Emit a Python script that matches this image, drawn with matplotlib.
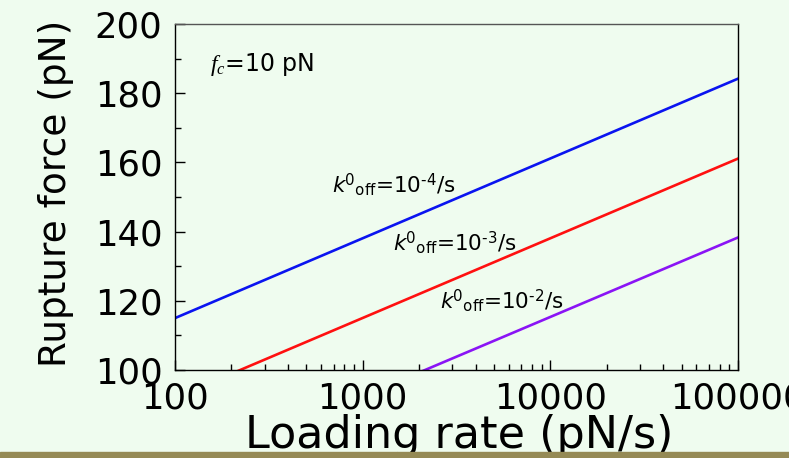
import matplotlib
matplotlib.use("Agg")
import matplotlib.pyplot as plt
from matplotlib.patches import Rectangle
from matplotlib.ticker import FixedLocator, FixedFormatter, NullFormatter, LogLocator

plt.rcParams['font.family'] = ['DejaVu Sans']
plt.rcParams['mathtext.fontset'] = 'custom'
plt.rcParams['mathtext.rm'] = 'DejaVu Sans'
plt.rcParams['mathtext.it'] = 'Liberation Serif:italic'
plt.rcParams['mathtext.sf'] = 'DejaVu Sans:italic'
plt.rcParams['mathtext.bf'] = 'DejaVu Sans:bold'

# Data
loading_rate = [100, 100000]
force_k1e4 = [115.0, 184.2]
force_k1e3 = [92.0, 161.1]
force_k1e2 = [69.4, 138.3]
x_ticks = [100, 1000, 10000, 100000]
x_tick_labels = ["100", "1000", "10000", "100000"]
y_ticks = [100, 120, 140, 160, 180, 200]
y_tick_labels = ["100", "120", "140", "160", "180", "200"]
y_minor = [110, 130, 150, 170, 190]

bg = "#effcef"
W, H = 789, 458
fig = plt.figure(figsize=(W / 100, H / 100), dpi=100, facecolor=bg)
ax = fig.add_axes([175 / W, 1 - 370 / H, (738 - 175) / W, (370 - 24) / H], facecolor=bg)

ax.plot(loading_rate, force_k1e4, color="#0a14f0", lw=1.9)
ax.plot(loading_rate, force_k1e3, color="#ff1010", lw=1.9)
ax.plot(loading_rate, force_k1e2, color="#8a14f5", lw=1.9)

ax.set_xscale("log")
ax.set_xlim(100, 100000)
ax.set_ylim(100, 200)
ax.xaxis.set_major_locator(FixedLocator(x_ticks))
ax.xaxis.set_major_formatter(FixedFormatter(x_tick_labels))
ax.xaxis.set_minor_locator(LogLocator(base=10, subs=range(2, 10)))
ax.xaxis.set_minor_formatter(NullFormatter())
ax.yaxis.set_major_locator(FixedLocator(y_ticks))
ax.yaxis.set_major_formatter(FixedFormatter(y_tick_labels))
ax.yaxis.set_minor_locator(FixedLocator(y_minor))

ax.tick_params(which="both", direction="in", top=False, right=False, width=1, colors="black")
ax.tick_params(which="major", length=7, labelsize=25.5)
ax.tick_params(which="minor", length=4)
ax.tick_params(axis="y", which="major", pad=9)
ax.tick_params(axis="x", which="major", pad=8)
for s in ax.spines.values():
    s.set_linewidth(1.0)
ax.spines['top'].set_color("#555555")

ax.set_xlabel("Loading rate (pN/s)", fontsize=32)
ax.set_ylabel("Rupture force (pN)", fontsize=27)
ax.xaxis.label.set_va("baseline")
ax.yaxis.label.set_va("baseline")
ax.xaxis.set_label_coords((459 - 175) / 563, (370 - 448) / 346)
ax.yaxis.set_label_coords((66 - 175) / 563, (370 - 193) / 346)

ax.text(153, 186.4, r"$f_{c}$=10 pN", fontsize=17, va="baseline")

ax.text(685, 151.5, r"$\mathsf{k}^{0}{}_{\mathrm{off}}$=10$^{\text{-4}}$/s", fontsize=15.5, va="baseline")
ax.text(1449, 134.7, r"$\mathsf{k}^{0}{}_{\mathrm{off}}$=10$^{\text{-3}}$/s", fontsize=15.5, va="baseline")
ax.text(2582, 117.9, r"$\mathsf{k}^{0}{}_{\mathrm{off}}$=10$^{\text{-2}}$/s", fontsize=15.5, va="baseline")

fig.patches.append(Rectangle((0, 0), 1, 6 / H, transform=fig.transFigure, color="#958a55", zorder=5))

fig.savefig("out.png", dpi=100, facecolor=bg)
